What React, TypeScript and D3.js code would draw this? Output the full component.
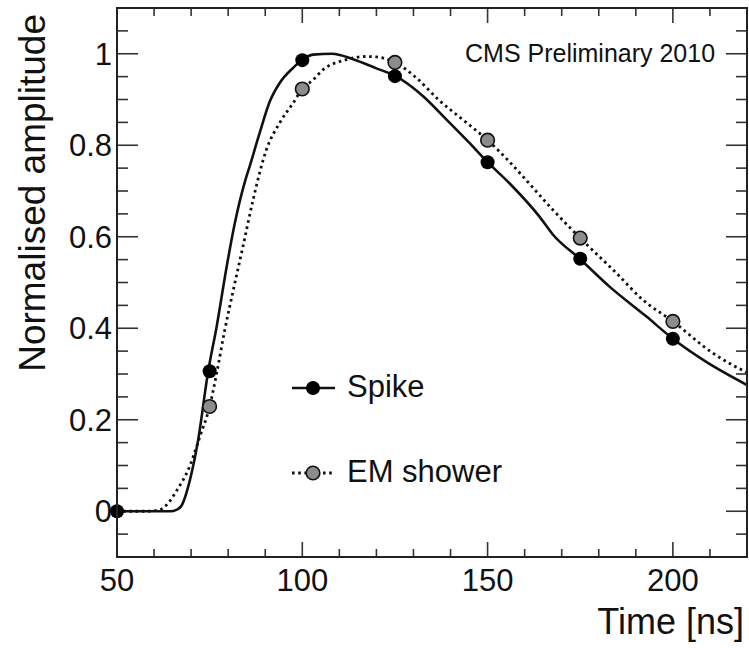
import React from "react";
import * as d3 from "d3";

// Markers (sampled times)
const spikeTimes = [50, 75, 100, 125, 150, 175, 200];
const spikeValues = [0, 0.306, 0.986, 0.951, 0.763, 0.552, 0.377];
const emTimes = [75, 100, 125, 150, 175, 200];
const emValues = [0.229, 0.923, 0.981, 0.811, 0.597, 0.415];

// Pulse shape curves
const spikeCurveT = [50, 64.5, 66, 67.4, 69.7, 71.9, 74.6, 76.9, 79.6, 81.8, 84.5, 85.8, 88.5, 91.2, 93.9, 97.5, 100, 102.9, 108, 113.7, 120, 125, 132.6, 138.9, 145.1, 150, 155.9, 164, 167.6, 175, 182.9, 192.8, 200, 208.9, 220];
const spikeCurveA = [0, 0, 0.003, 0.012, 0.069, 0.156, 0.306, 0.404, 0.535, 0.63, 0.72, 0.754, 0.827, 0.895, 0.936, 0.969, 0.987, 0.998, 1.0, 0.988, 0.968, 0.952, 0.907, 0.856, 0.805, 0.763, 0.717, 0.644, 0.605, 0.551, 0.491, 0.426, 0.377, 0.327, 0.276];
const emCurveT = [50, 58, 61.5, 63.4, 66.1, 69.7, 72.4, 75, 76.9, 79.1, 81.4, 84, 86.7, 90.3, 93.9, 97.5, 100, 102.9, 105.6, 111.9, 117.3, 120, 125, 130.8, 137.1, 143.3, 150, 155.9, 159.5, 167.6, 175, 184.7, 191.9, 200, 210.7, 220];
const emCurveA = [0, 0, 0.003, 0.014, 0.045, 0.1, 0.164, 0.229, 0.302, 0.397, 0.484, 0.579, 0.68, 0.79, 0.849, 0.892, 0.923, 0.943, 0.965, 0.987, 0.994, 0.993, 0.981, 0.947, 0.897, 0.856, 0.811, 0.764, 0.732, 0.659, 0.597, 0.521, 0.462, 0.415, 0.346, 0.303];

const xMajorTicks = [50, 100, 150, 200];
const yMajorTicks = [0, 0.2, 0.4, 0.6, 0.8, 1];
const yTickLabels = ["0", "0.2", "0.4", "0.6", "0.8", "1"];

const legendLabels = ["Spike", "EM shower"];
const xTitle = "Time [ns]";
const yTitle = "Normalised amplitude";
const stamp = "CMS Preliminary 2010";

const W = 749;
const H = 648;
const L = 117, R = 747, T = 8, B = 557;
const FONT = "'Liberation Sans', Arial, Helvetica, sans-serif";
const GREY = "#8c8c8c";

export default function App() {
  const x = d3.scaleLinear().domain([50, 220]).range([L, R]);
  const y = d3.scaleLinear().domain([-0.1, 1.1]).range([B, T]);

  const line = d3
    .line<[number, number]>()
    .x((d) => x(d[0]))
    .y((d) => y(d[1]))
    .curve(d3.curveMonotoneX);

  const spikePts: [number, number][] = spikeCurveT.map((t, i) => [t, spikeCurveA[i]]);
  const emPts: [number, number][] = emCurveT.map((t, i) => [t, emCurveA[i]]);

  const xMinor = d3.range(50, 221, 10);
  const yMinor = d3.range(-0.1, 1.1001, 0.05).map((v) => Math.round(v * 100) / 100);
  const isMajorY = (v: number) => yMajorTicks.some((m) => Math.abs(m - v) < 1e-6);
  const isMajorX = (v: number) => xMajorTicks.includes(v);

  const MAJ_Y = 21, MIN_Y = 11, MAJ_X = 15, MIN_X = 8;

  return (
    <svg
      width={W}
      height={H}
      style={{ position: "fixed", left: 0, top: 0, background: "#fff" }}
      fontFamily={FONT}
    >
      <rect x={0} y={0} width={W} height={H} fill="#fff" />
      <defs>
        <clipPath id="plotclip">
          <rect x={L} y={T} width={R - L} height={B - T} />
        </clipPath>
      </defs>

      {/* ticks */}
      <g stroke="#333" strokeWidth={1.6}>
        {yMinor.map((v) => {
          const len = isMajorY(v) ? MAJ_Y : MIN_Y;
          return (
            <g key={"y" + v}>
              <line x1={L} x2={L + len} y1={y(v)} y2={y(v)} />
              <line x1={R} x2={R - len} y1={y(v)} y2={y(v)} />
            </g>
          );
        })}
        {xMinor.map((v) => {
          const len = isMajorX(v) ? MAJ_X : MIN_X;
          return (
            <g key={"x" + v}>
              <line x1={x(v)} x2={x(v)} y1={B} y2={B - len} />
              <line x1={x(v)} x2={x(v)} y1={T} y2={T + len} />
            </g>
          );
        })}
      </g>

      {/* curves */}
      <g clipPath="url(#plotclip)">
        <path d={line(emPts) || ""} fill="none" stroke="#111" strokeWidth={2.8} strokeDasharray="2.6 3.6" />
        <path d={line(spikePts) || ""} fill="none" stroke="#111" strokeWidth={2.6} />
      </g>

      {/* markers */}
      {emTimes.map((t, i) => (
        <circle key={"em" + t} cx={x(t)} cy={y(emValues[i])} r={6.8} fill={GREY} stroke="#111" strokeWidth={1.6} />
      ))}
      {spikeTimes.map((t, i) => (
        <circle key={"sp" + t} cx={x(t)} cy={y(spikeValues[i])} r={7} fill="#000" />
      ))}

      {/* frame */}
      <rect x={L} y={T} width={R - L} height={B - T} fill="none" stroke="#222" strokeWidth={2} />

      {/* tick labels */}
      <g fontSize={31} fill="#111">
        {yMajorTicks.map((v, i) => (
          <text key={"yl" + v} x={L - 5} y={y(v) + 11} textAnchor="end">
            {yTickLabels[i]}
          </text>
        ))}
        {xMajorTicks.map((v) => (
          <text key={"xl" + v} x={x(v)} y={591} textAnchor="middle">
            {v}
          </text>
        ))}
      </g>

      {/* axis titles */}
      <text x={744} y={634} textAnchor="end" fontSize={36} fill="#111">
        {xTitle}
      </text>
      <text
        transform={`translate(45, 14) rotate(-90)`}
        textAnchor="end"
        fontSize={37}
        fill="#111"
      >
        {yTitle}
      </text>

      {/* stamp */}
      <text x={465} y={62} fontSize={25} fill="#111">
        {stamp}
      </text>

      {/* legend */}
      <g>
        <line x1={292} x2={335} y1={388} y2={388} stroke="#111" strokeWidth={2.6} />
        <circle cx={313} cy={388} r={7} fill="#000" />
        <text x={347} y={397} fontSize={31} fill="#111">
          {legendLabels[0]}
        </text>
        <line x1={292} x2={335} y1={473} y2={473} stroke="#111" strokeWidth={2.8} strokeDasharray="2.6 3.6" />
        <circle cx={313} cy={473} r={6.8} fill={GREY} stroke="#111" strokeWidth={1.6} />
        <text x={347} y={482} fontSize={31} fill="#111">
          {legendLabels[1]}
        </text>
      </g>
    </svg>
  );
}
